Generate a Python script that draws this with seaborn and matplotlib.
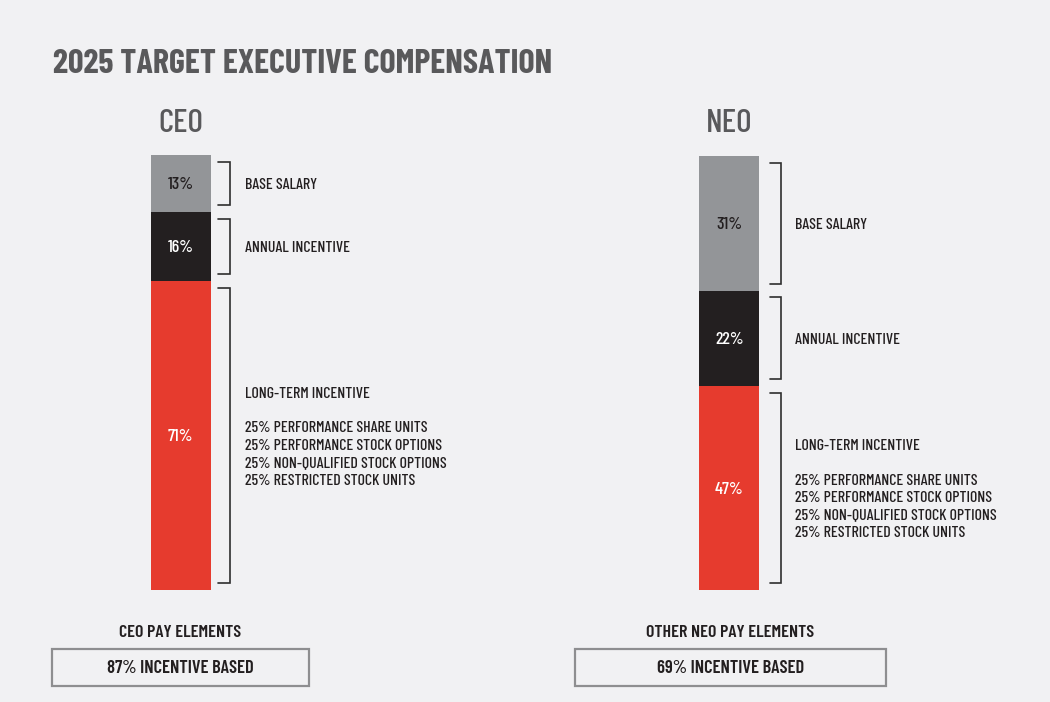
import numpy as np
import pandas as pd
import matplotlib
matplotlib.use("Agg")
import matplotlib.pyplot as plt
import seaborn as sns
from matplotlib.patches import Rectangle

# ---------------- data ----------------
title = "2025 TARGET EXECUTIVE COMPENSATION"
groups = ["CEO", "NEO"]
components = ["BASE SALARY", "ANNUAL INCENTIVE", "LONG-TERM INCENTIVE"]
ceo_values = [13, 16, 71]
neo_values = [31, 22, 47]
lti_details = [
    "25% PERFORMANCE SHARE UNITS",
    "25% PERFORMANCE STOCK OPTIONS",
    "25% NON-QUALIFIED STOCK OPTIONS",
    "25% RESTRICTED STOCK UNITS",
]
footer_titles = ["CEO PAY ELEMENTS", "OTHER NEO PAY ELEMENTS"]
incentive_shares = [87, 69]

# ---------------- style ----------------
BG = "#f1f1f3"
seg_colors = ["#939598", "#231f20", "#e63b2e"]
pct_colors = ["#231f20", "#ffffff", "#ffffff"]
TXT = "#231f20"
GREY_TXT = "#59595b"
BOX_EC = "#8e8e90"
FONT = "Barlow Condensed"

W, H = 1050, 702
sns.set_theme(style="white", rc={"figure.facecolor": BG, "axes.facecolor": BG,
                                 "savefig.facecolor": BG})
plt.rcParams["font.family"] = [FONT, "DejaVu Sans"]

fig = plt.figure(figsize=(W / 100, H / 100), dpi=100)
renderer = fig.canvas.get_renderer()

def fit(t, target_w):
    w = t.get_window_extent(renderer).width
    t.set_fontsize(t.get_fontsize() * target_w / w)
    return t.get_fontsize()

def fx(x):
    return x / W

def fy(y):
    return 1 - y / H

# title
t_title = fig.text(fx(53), fy(73), title, ha="left", va="baseline",
                   color=GREY_TXT, fontweight=700, fontsize=20)
fit(t_title, 499)

panels = [
    dict(name=groups[0], values=ceo_values, left=150.5, right=210.7, top=155, bottom=590,
         br=(7, 19), tx=34.5, footer=footer_titles[0], share=incentive_shares[0],
         box=(52, 309)),
    dict(name=groups[1], values=neo_values, left=699.3, right=759.3, top=156, bottom=590,
         br=(11, 22), tx=35.7, footer=footer_titles[1], share=incentive_shares[1],
         box=(575, 886)),
]

CAP = 11.0  # cap height of label text, px
label_texts = []
pct_texts = []
head_texts = []
foot_texts = []
box_texts = []
lti_offsets = [-43.5, -8.7, 8.7, 26.1, 43.5]

for p in panels:
    axw = p["right"] - p["left"]
    ax = fig.add_axes([fx(p["left"]), fy(p["bottom"]), axw / W, (p["bottom"] - p["top"]) / H])
    vals = np.array(p["values"], dtype=float)
    cum = np.cumsum(vals)
    starts = cum - vals
    # stacked bar: draw cumulative totals, largest first
    for i in reversed(range(len(vals))):
        sns.barplot(x=[p["name"]], y=[cum[i]], color=seg_colors[i], width=1.0,
                    saturation=1, linewidth=0, errorbar=None, ax=ax)
    ax.set_xlim(-0.5, 0.5)
    ax.set_ylim(100, 0)
    ax.set_axis_off()

    tr = ax.get_yaxis_transform()
    b0 = 1 + p["br"][0] / axw
    b1 = 1 + p["br"][1] / axw
    inset = 1.6
    for i in range(len(vals)):
        y0 = starts[i] + inset
        y1 = cum[i] - inset
        ax.plot([b0, b1, b1, b0], [y0, y0, y1, y1], transform=tr, color="#2e2e2e",
                lw=1.2, clip_on=False, solid_joinstyle="miter")
        mid = (starts[i] + cum[i]) / 2
        # percentage in bar
        pt = ax.annotate(f"{int(vals[i])}%", xy=(0.5, mid), xycoords=tr,
                         xytext=(0, -CAP / 2), textcoords="offset pixels",
                         ha="center", va="baseline", color=pct_colors[i],
                         fontsize=11, fontweight=500)
        pct_texts.append(pt)
        # right-hand labels
        if i < 2:
            lt = ax.annotate(components[i], xy=(1, mid), xycoords=tr,
                             xytext=(p["tx"], -CAP / 2), textcoords="offset pixels",
                             ha="left", va="baseline", color=TXT, fontsize=11,
                             fontweight=500)
            label_texts.append(lt)
        else:
            lines = [components[i]] + lti_details
            for off, s in zip(lti_offsets, lines):
                lt = ax.annotate(s, xy=(1, mid), xycoords=tr,
                                 xytext=(p["tx"], -off - CAP / 2), textcoords="offset pixels",
                                 ha="left", va="baseline", color=TXT, fontsize=11,
                                 fontweight=500)
                label_texts.append(lt)

    cx = (p["left"] + p["right"]) / 2
    ht = fig.text(fx(cx), fy(132), p["name"], ha="center", va="baseline",
                  color=GREY_TXT, fontsize=20, fontweight=500)
    head_texts.append(ht)

    bx0, bx1 = p["box"]
    bcx = (bx0 + bx1) / 2
    ft = fig.text(fx(bcx), fy(637), p["footer"], ha="center", va="baseline",
                  color=TXT, fontsize=12, fontweight=600)
    foot_texts.append(ft)
    rect = Rectangle((fx(bx0), fy(686)), (bx1 - bx0) / W, 37 / H,
                     transform=fig.transFigure, fill=False, ec=BOX_EC, lw=1.6)
    fig.add_artist(rect)
    bt = fig.text(fx(bcx), fy(673), f"{p['share']}% INCENTIVE BASED", ha="center",
                  va="baseline", color=TXT, fontsize=12, fontweight=600)
    box_texts.append(bt)

# size fonts to the reference text widths
ref = [t for t in label_texts if t.get_text() == lti_details[2]][0]
fs_lab = fit(ref, 202)
for t in label_texts:
    t.set_fontsize(fs_lab)
fs_pct = fit(pct_texts[0], 26.5)
for t in pct_texts:
    t.set_fontsize(fs_pct)
fs_head = fit(head_texts[0], 45)
head_texts[1].set_fontsize(fs_head)
fs_foot = fit(foot_texts[1], 168)
foot_texts[0].set_fontsize(fs_foot)
fs_box = fit(box_texts[0], 147)
box_texts[1].set_fontsize(fs_box)

fig.savefig("out.png", dpi=100, facecolor=BG)
